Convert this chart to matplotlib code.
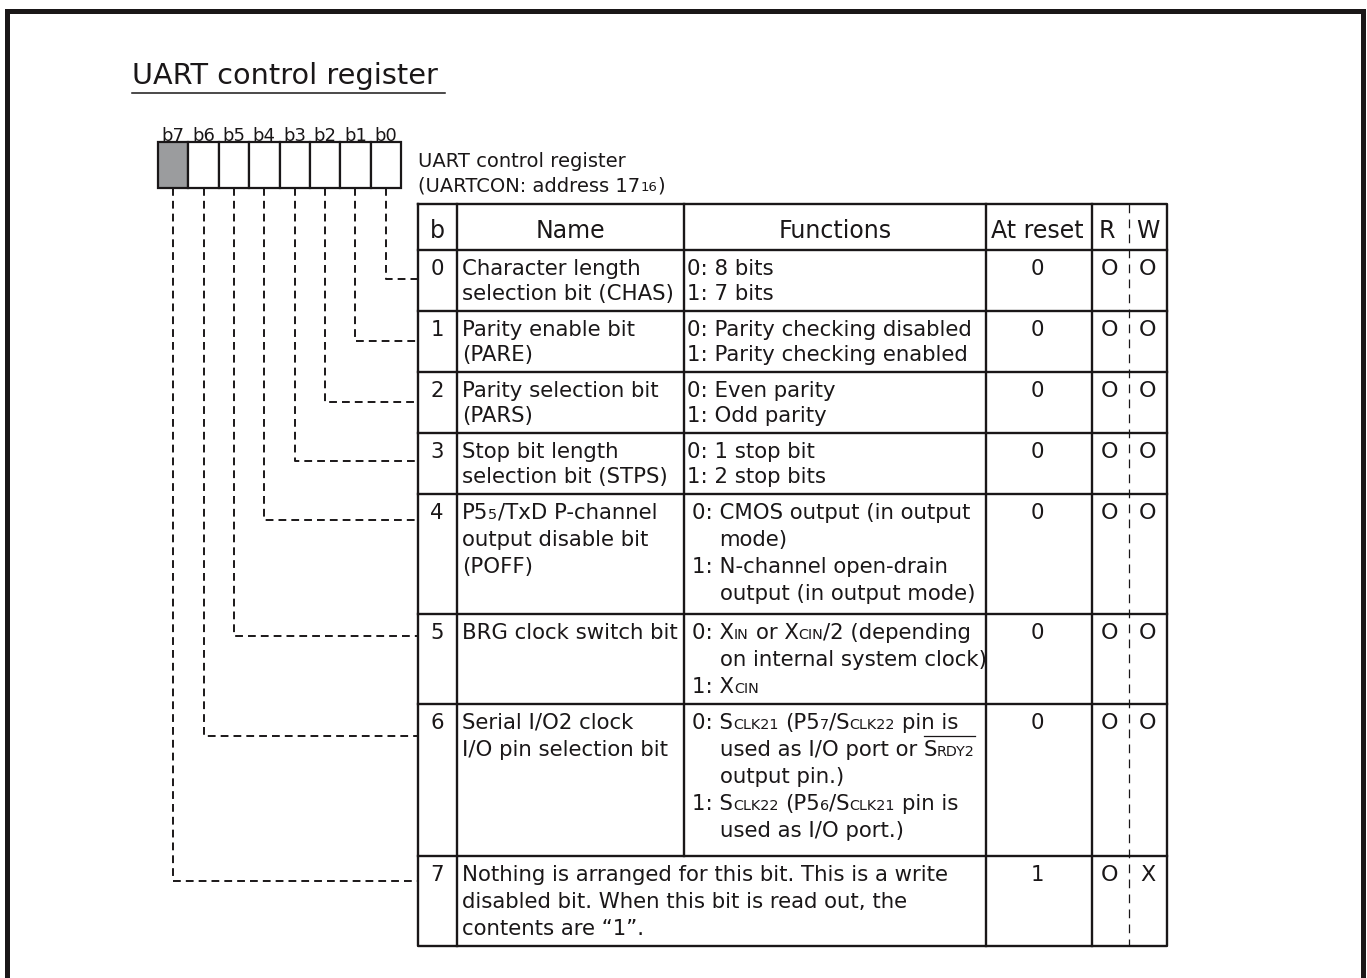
import matplotlib
matplotlib.use("Agg")
import matplotlib.pyplot as plt
from matplotlib.font_manager import FontProperties

FAMILY = "DejaVu Sans"
plt.rcParams['font.family'] = FAMILY

# ---- content ----
title = "UART control register"
register_label = ["UART control register", "(UARTCON: address 17[16])"]
bit_labels = ["b7", "b6", "b5", "b4", "b3", "b2", "b1", "b0"]
unused_bits = ["b7"]

header = ["b", "Name", "Functions", "At reset", "R", "W"]

# [..] = small letters on the baseline, |..| = overline
bit_numbers = ["0", "1", "2", "3", "4", "5", "6", "7"]
name_lines = [
    ["Character length", "selection bit (CHAS)"],
    ["Parity enable bit", "(PARE)"],
    ["Parity selection bit", "(PARS)"],
    ["Stop bit length", "selection bit (STPS)"],
    ["P5[5]/TxD P-channel", "output disable bit", "(POFF)"],
    ["BRG clock switch bit"],
    ["Serial I/O2 clock", "I/O pin selection bit"],
    ["Nothing is arranged for this bit. This is a write",
     "disabled bit. When this bit is read out, the",
     "contents are \u201c1\u201d."],
]
function_lines = [
    ["0: 8 bits", "1: 7 bits"],
    ["0: Parity checking disabled", "1: Parity checking enabled"],
    ["0: Even parity", "1: Odd parity"],
    ["0: 1 stop bit", "1: 2 stop bits"],
    ["0: CMOS output (in output", "mode)", "1: N-channel open-drain",
     "output (in output mode)"],
    ["0: X[IN] or X[CIN]/2 (depending", "on internal system clock)", "1: X[CIN]"],
    ["0: S[CLK21] (P5[7]/S[CLK22] pin is", "used as I/O port or |S[RDY2]|",
     "output pin.)", "1: S[CLK22] (P5[6]/S[CLK21] pin is", "used as I/O port.)"],
    [],
]
reset_values = ["0", "0", "0", "0", "0", "0", "0", "1"]
read_marks = ["O", "O", "O", "O", "O", "O", "O", "O"]
write_marks = ["O", "O", "O", "O", "O", "O", "O", "X"]

# ---- layout (pixels, y downwards) ----
W, H = 1367, 979
fig = plt.figure(figsize=(W / 100, H / 100), dpi=100)
ax = fig.add_axes([0, 0, 1, 1])
ax.set_xlim(0, W)
ax.set_ylim(H, 0)
ax.axis('off')
renderer = fig.canvas.get_renderer()

INK = '#1a1718'
BODY = 15.3
SMALL = 0.68


def text_w(s, size):
    fp = FontProperties(family=FAMILY, size=size)
    w1 = renderer.get_text_width_height_descent("|" + s + "|", fp, ismath=False)[0]
    w0 = renderer.get_text_width_height_descent("||", fp, ismath=False)[0]
    return w1 - w0


def parse(markup):
    segs = []
    buf = ''
    small = False
    over = False
    for ch in markup:
        if ch in '[]|':
            if buf:
                segs.append((buf, small, over))
                buf = ''
            if ch == '[':
                small = True
            elif ch == ']':
                small = False
            else:
                over = not over
        else:
            buf += ch
    if buf:
        segs.append((buf, small, over))
    return segs


def draw_rich(x, y, markup, size=BODY):
    pos = x
    ov = []
    for txt, small, over in parse(markup):
        sz = size * SMALL if small else size
        stripped = txt.lstrip(' ')
        pos += (len(txt) - len(stripped)) * text_w(' ', sz)
        start = pos
        if stripped:
            ax.text(pos, y, stripped, fontsize=sz, ha='left', va='baseline',
                    color=INK)
        pos += text_w(stripped, sz)
        if over:
            ov.append((start, pos))
    if ov:
        ax.plot([ov[0][0], ov[-1][1]], [y - 19, y - 19], color=INK, lw=0.9)
    return pos


# outer frame (open at the bottom)
ax.plot([6.5, 6.5, 1362.5, 1362.5], [H + 5, 11.5, 11.5, H + 5],
        color=INK, lw=3.6, solid_joinstyle='miter')

# title
ax.text(132, 84, title, fontsize=20.7, ha='left', va='baseline', color=INK)
ax.plot([132, 445], [94, 94], color=INK, lw=1.1)

# register boxes
box_l, box_r, box_t, box_b = 158, 401, 143, 189
bw = (box_r - box_l) / len(bit_labels)
for i, lab in enumerate(bit_labels):
    x0 = box_l + i * bw
    fc = '#9b9c9e' if lab in unused_bits else 'white'
    ax.add_patch(plt.Rectangle((x0, box_t), bw, box_b - box_t, facecolor=fc,
                               edgecolor=INK, lw=1.6))
    ax.text(x0 + bw / 2, 141, lab, fontsize=13, ha='center', va='baseline',
            color=INK)

# register name next to the boxes
draw_rich(418, 167, register_label[0], 14)
draw_rich(418, 191, register_label[1], 14)

# table grid
tab_l, tab_r = 418, 1167
col_x = [418, 457, 684, 986, 1092, 1129, 1167]
row_y = [205, 251, 312, 373, 434, 495, 615, 705, 857, 947]
LW = 1.7
ax.plot([tab_l, tab_r, tab_r, tab_l, tab_l],
        [row_y[0], row_y[0], row_y[-1], row_y[-1], row_y[0]],
        color=INK, lw=LW)
for y in row_y[1:-1]:
    ax.plot([tab_l, tab_r], [y, y], color=INK, lw=LW)
for j, x in enumerate(col_x[1:5]):
    if j == 1:
        # name/functions divider is absent in the last row
        ax.plot([x, x], [row_y[0], row_y[-2]], color=INK, lw=LW)
    else:
        ax.plot([x, x], [row_y[0], row_y[-1]], color=INK, lw=LW)
ax.plot([col_x[5], col_x[5]], [row_y[0], row_y[-1]], color=INK, lw=0.9,
        linestyle=(0, (7, 5)))

# header
head_x = [437, 570, 835, 1037, 1107, 1148]
for hx, h in zip(head_x, header):
    ax.text(hx, 238, h, fontsize=17, ha='center', va='baseline', color=INK)

# rows
indent = text_w("0: ", BODY)
for r in range(len(bit_numbers)):
    top = row_y[r + 1]
    pitch = 25 if r < 4 else 27
    base = top + 24
    ax.text(437, base, bit_numbers[r], fontsize=BODY, ha='center', va='baseline',
            color=INK)
    for k, line in enumerate(name_lines[r]):
        draw_rich(462, base + k * pitch, line)
    fx = 687 if r < 4 else 692
    for k, line in enumerate(function_lines[r]):
        xx = fx if line[:2] in ("0:", "1:") else fx + indent
        draw_rich(xx, base + k * pitch, line)
    ax.text(1037, base, reset_values[r], fontsize=BODY, ha='center',
            va='baseline', color=INK)
    ax.text(1109, base, read_marks[r], fontsize=16, ha='center',
            va='baseline', color=INK)
    ax.text(1148, base, write_marks[r], fontsize=16, ha='center',
            va='baseline', color=INK)

# dashed leaders from each bit box to its table row
conn_y = [280, 342, 403, 462, 521, 637, 737, 882]
for i, lab in enumerate(bit_labels):
    bit = 7 - i
    xc = box_l + i * bw + bw / 2
    yc = conn_y[bit]
    ax.plot([xc, xc, tab_l], [box_b, yc, yc], color=INK, lw=1.4,
            linestyle=(0, (4, 2.6)))

fig.savefig("out.png", dpi=100)
